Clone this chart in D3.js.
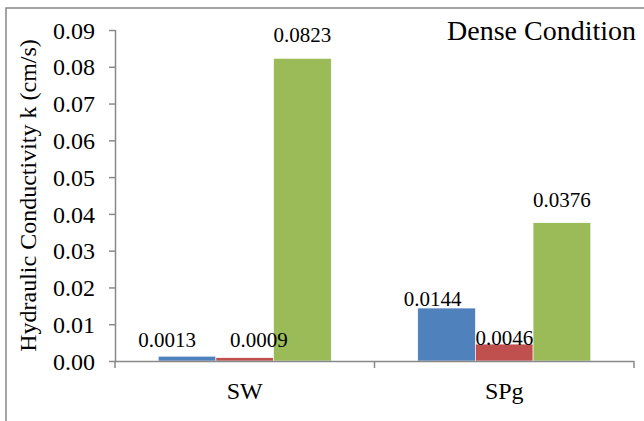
<!DOCTYPE html>
<html>
<head>
<meta charset="utf-8">
<script src="https://cdn.jsdelivr.net/npm/d3@7"></script>
<style>
  html, body { margin: 0; padding: 0; background: #fff; }
  svg text { font-family: "Liberation Serif", "Times New Roman", serif; }
</style>
</head>
<body>
<div id="chart"></div>
<script>
// chart data
const categories = ["SW", "SPg"]
const seriesNames = ["s1", "s2", "s3"]
const colors = ["#4F81BD", "#C0504D", "#9BBB59"]
const values = [
  [0.0013, 0.0009, 0.0823],   // SW
  [0.0144, 0.0046, 0.0376]    // SPg
]
const labels = [
  ["0.0013", "0.0009", "0.0823"],
  ["0.0144", "0.0046", "0.0376"]
]
const yTicks = [0, 0.01, 0.02, 0.03, 0.04, 0.05, 0.06, 0.07, 0.08, 0.09]

const width = 644, height = 421
const margin = {top: 30, right: 10, bottom: 60, left: 115}
const plotRight = 634, plotBottom = 361
const serif = "'Liberation Serif', 'Times New Roman', serif"

const svg = d3.select("#chart").append("svg")
  .attr("width", width)
  .attr("height", height)
  .attr("font-family", serif)

// outer frame (chart area border, runs off right/bottom)
svg.append("rect")
  .attr("x", 6).attr("y", 8)
  .attr("width", 700).attr("height", 500)
  .attr("fill", "none")
  .attr("stroke", "#868686")
  .attr("stroke-width", 1.5)

// scales
const x = d3.scaleBand()
  .domain(categories)
  .range([margin.left, plotRight])
  .padding(0)

const xInner = d3.scaleBand()
  .domain(seriesNames)
  .range([0, x.bandwidth()])
  .paddingInner(0)
  .paddingOuter(0.75)

const y = d3.scaleLinear()
  .domain([0, 0.09])
  .range([plotBottom, margin.top])

// bars
const rows = []
categories.forEach((c, ci) => {
  seriesNames.forEach((s, si) => {
    rows.push({cat: c, ci: ci, ser: s, si: si, value: values[ci][si], label: labels[ci][si]})
  })
})

svg.append("g")
  .selectAll("rect")
  .data(rows)
  .join("rect")
    .attr("x", d => x(d.cat) + xInner(d.ser))
    .attr("y", d => y(d.value))
    .attr("width", xInner.bandwidth())
    .attr("height", d => y(0) - y(d.value))
    .attr("fill", d => colors[d.si])
    .attr("stroke", "#fff")
    .attr("stroke-width", 0.6)

// y axis
const yAxis = d3.axisLeft(y)
  .tickValues(yTicks)
  .tickFormat(d3.format(".2f"))
  .tickSize(6)
  .tickPadding(14)

const gy = svg.append("g")
  .attr("transform", `translate(${margin.left},0)`)
  .call(yAxis)
  .attr("font-family", serif)
  .attr("font-size", 24)
gy.select(".domain").attr("stroke", "#898989").attr("stroke-width", 1.5)
  .attr("d", `M0.5,${y(0.09)}V${y(0)}`)
gy.selectAll(".tick line").attr("stroke", "#898989").attr("stroke-width", 1.5)
gy.selectAll(".tick text")
  .attr("fill", "#000")
  .attr("dy", "0.34em")

// x axis
const gx = svg.append("g")
  .attr("transform", `translate(0,${plotBottom})`)
gx.append("line")
  .attr("x1", margin.left).attr("x2", plotRight)
  .attr("y1", 0.5).attr("y2", 0.5)
  .attr("stroke", "#898989").attr("stroke-width", 1.5)
const xBoundaries = categories.map(c => x(c)).concat([x(categories[categories.length - 1]) + x.bandwidth()])
gx.selectAll("line.tk")
  .data(xBoundaries)
  .join("line")
    .attr("class", "tk")
    .attr("x1", d => d).attr("x2", d => d)
    .attr("y1", 0).attr("y2", 7)
    .attr("stroke", "#898989").attr("stroke-width", 1.5)
gx.selectAll("text")
  .data(categories)
  .join("text")
    .attr("x", d => x(d) + x.bandwidth() / 2)
    .attr("y", 38)
    .attr("text-anchor", "middle")
    .attr("font-size", 24)
    .text(d => d)

// data labels (manually nudged like the original)
const labelNudge = [
  [[-20, 9], [14, 11], [0, 16]],
  [[-14, 2], [0, -1], [0, 16]]
]
svg.append("g")
  .selectAll("text")
  .data(rows)
  .join("text")
    .attr("x", d => x(d.cat) + xInner(d.ser) + xInner.bandwidth() / 2 + labelNudge[d.ci][d.si][0])
    .attr("y", d => y(d.value) - labelNudge[d.ci][d.si][1])
    .attr("text-anchor", "middle")
    .attr("font-size", 21)
    .text(d => d.label)

// axis title
svg.append("text")
  .attr("transform", `translate(36,${(y(0) + y(0.09)) / 2}) rotate(-90)`)
  .attr("text-anchor", "middle")
  .attr("font-size", 24)
  .text("Hydraulic Conductivity k (cm/s)")

// chart title in corner
svg.append("text")
  .attr("x", 636)
  .attr("y", 40)
  .attr("text-anchor", "end")
  .attr("font-size", 28)
  .text("Dense Condition")
</script>
</body>
</html>
